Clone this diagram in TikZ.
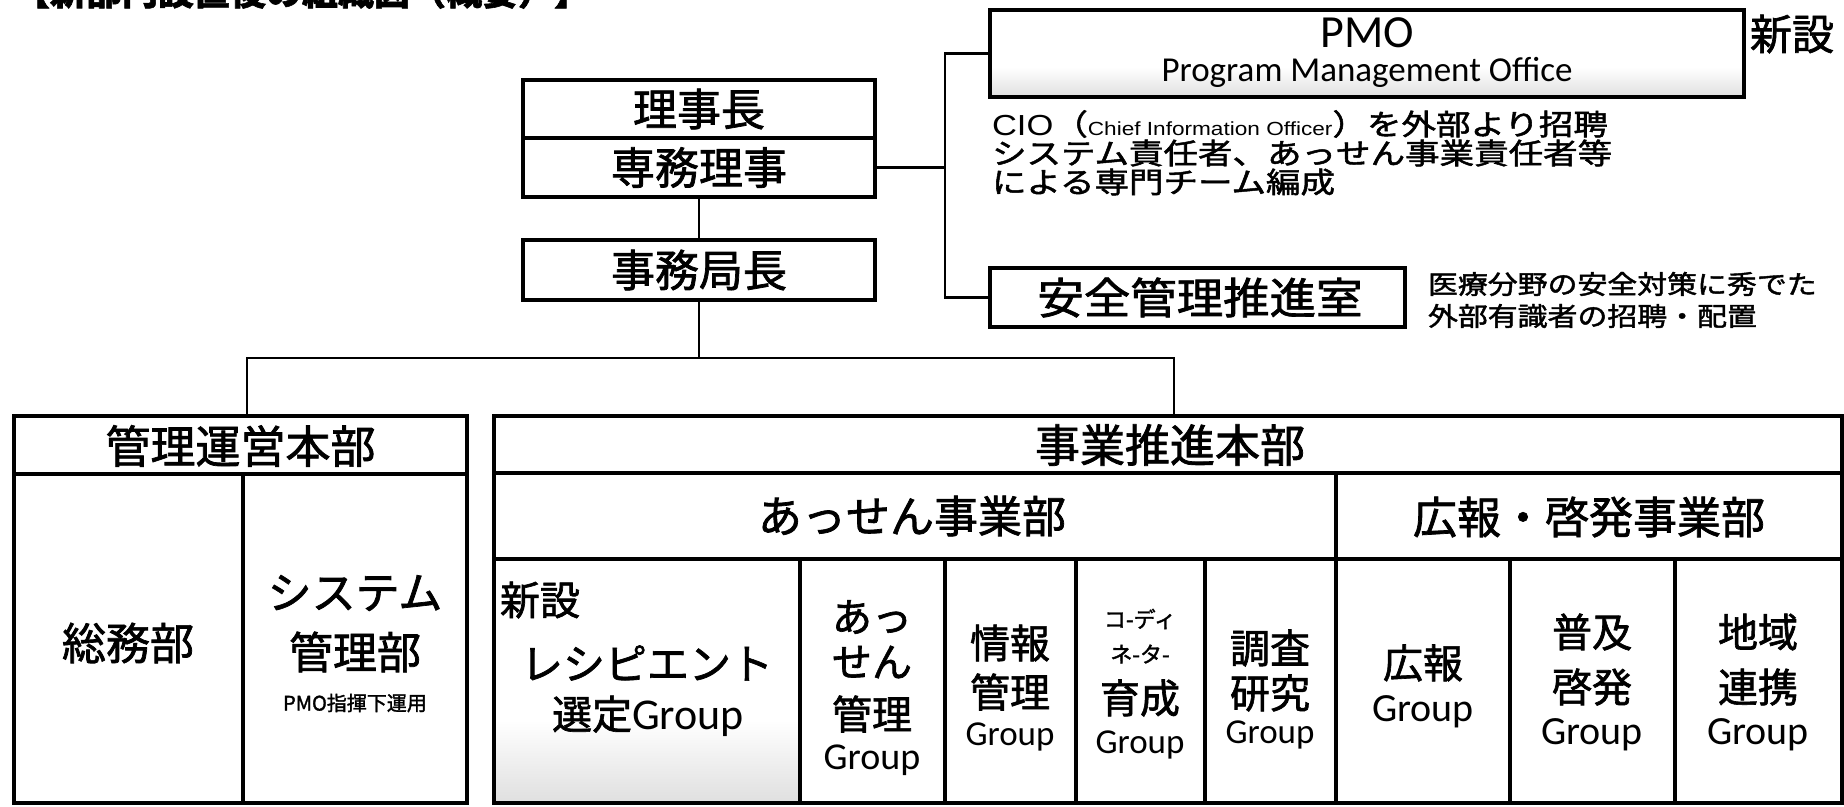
\documentclass[tikz,border=0pt]{standalone}
\usepackage{fontspec}
\usepackage{graphicx}
\setmainfont{Noto Sans CJK JP}[FakeBold=1.6]
\newfontfamily\latinf{Carlito}
\newfontfamily\arialf{Liberation Sans}
\newcommand\fsz[1]{\fontsize{#1}{#1}\selectfont}
\pgfdeclareverticalshading{speckle}{100bp}{color(0bp)=(black!40); color(12bp)=(black!22); color(42bp)=(white); color(100bp)=(white)}
\begin{document}
\begin{tikzpicture}[x=1pt,y=-1pt,
  frame/.style={draw=black, line width=3.4pt, inner sep=0pt, outer sep=0pt},
  shade/.style={shading=speckle},
  link/.style={draw=black, line width=2.6pt},
  lbl/.style={inner sep=0pt, outer sep=0pt, align=center},
]
\useasboundingbox (0,0) rectangle (1844,806);
\clip (0,0) rectangle (1844,806);

% title (cut at the top edge)
\node[lbl, anchor=base west] (title) at (14,5) {\bfseries\fsz{36}【新部門設置後の組織図（概要）】};

% top boxes
\node[frame, minimum width=352pt, minimum height=58pt] (rj) at (699,109) {};
\node[lbl] (rjt) at (699,109) {\fsz{44}理事長};
\node[frame, minimum width=352pt, minimum height=59pt] (sm) at (699,167.5) {};
\node[lbl] (smt) at (699,167.5) {\fsz{44}専務理事};
\node[frame, minimum width=352pt, minimum height=60pt] (jk) at (699,270) {};
\node[lbl] (jkt) at (699,270) {\fsz{44}事務局長};

\node[frame, shade, minimum width=754pt, minimum height=87pt] (pmo) at (1367,53.5) {};
\node[lbl, anchor=base] (pmot) at (1367,47) {\latinf\fsz{46}PMO};
\node[lbl, anchor=base] (pmos) at (1367,81) {\latinf\fsz{35}Program Management Office};
\node[lbl, anchor=west] (new1) at (1750,34) {\fsz{42}新設};

\node[lbl, anchor=west] (cio1) at (992,124) {\scalebox{1.19}[1]{\fsz{29}{\arialf CIO}（{\arialf\fsz{19}Chief Information Officer}）を外部より招聘}};
\node[lbl, anchor=west] (cio2) at (992,153) {\scalebox{1.19}[1]{\fsz{29}システム責任者、あっせん事業責任者等}};
\node[lbl, anchor=west] (cio3) at (992,182) {\scalebox{1.19}[1]{\fsz{29}による専門チーム編成}};

\node[frame, minimum width=415pt, minimum height=59pt] (anzen) at (1197.5,297.5) {};
\node[lbl] (anzent) at (1200,297.5) {\scalebox{1.08}[1]{\fsz{43}安全管理推進室}};
\node[lbl, anchor=west] (note1) at (1428,284) {\scalebox{1.15}[1]{\fsz{26}医療分野の安全対策に秀でた}};
\node[lbl, anchor=west] (note2) at (1428,316) {\scalebox{1.15}[1]{\fsz{26}外部有識者の招聘・配置}};

% connectors (top)
\coordinate (spm) at (945,167.5);
\coordinate (sp1) at (945,53.5);
\coordinate (sp2) at (945,297.5);
\draw[link] (sm.east) -- (spm);
\draw[link] (pmo.west) -- (sp1) -- (sp2) -- (anzen.west);
\draw[link] (sm.south) -- (jk.north);
\coordinate (bus) at (699,358);
\coordinate (busl) at (247,358);
\coordinate (busr) at (1174,358);

% management HQ
\node[frame, minimum width=453pt, minimum height=58pt] (kanri) at (240.5,445) {};
\node[lbl] (kanrit) at (240.5,446) {\fsz{45}管理運営本部};
\node[frame, minimum width=229pt, minimum height=329pt] (somu) at (128.5,638.5) {};
\node[lbl] (somut) at (128,643) {\fsz{44}総務部};
\node[frame, minimum width=224pt, minimum height=329pt] (sys) at (355,638.5) {};
\node[lbl] (syst1) at (355,593) {\fsz{44}システム};
\node[lbl] (syst2) at (355,652) {\fsz{44}管理部};
\node[lbl] (syst3) at (355,703) {\fsz{20}PMO指揮下運用};

% business HQ
\node[frame, minimum width=1348pt, minimum height=57pt] (jigyo) at (1168,444.5) {};
\node[lbl] (jigyot) at (1170,445) {\fsz{45}事業推進本部};
\node[frame, minimum width=842pt, minimum height=86pt] (assen) at (915,516) {};
\node[lbl] (assent) at (912,516) {\fsz{44}あっせん事業部};
\node[frame, minimum width=506pt, minimum height=86pt] (koho) at (1589,516) {};
\node[lbl] (kohot) at (1589,517) {\fsz{44}広報・啓発事業部};

\draw[link] (jk.south) -- (bus);
\draw[link] (kanri.north -| busl) -- (busl) -- (busr) -- (jigyo.north -| busr);

% group cells
\node[frame, shade, minimum width=306pt, minimum height=244pt] (g1) at (647,681) {};
\node[frame, minimum width=145pt, minimum height=244pt] (g2) at (872.5,681) {};
\node[frame, minimum width=131pt, minimum height=244pt] (g3) at (1010.5,681) {};
\node[frame, minimum width=129pt, minimum height=244pt] (g4) at (1140.5,681) {};
\node[frame, minimum width=131pt, minimum height=244pt] (g5) at (1270.5,681) {};
\node[frame, minimum width=174pt, minimum height=244pt] (g6) at (1423,681) {};
\node[frame, minimum width=165pt, minimum height=244pt] (g7) at (1592.5,681) {};
\node[frame, minimum width=167pt, minimum height=244pt] (g8) at (1758.5,681) {};

\node[lbl, anchor=west] (g1a) at (500,600) {\fsz{40}新設};
\node[lbl] (g1b) at (647,663) {\fsz{42}レシピエント};
\node[lbl] (g1c) at (648,716) {\fsz{40}選定{\latinf\fsz{44}Group}};

\node[lbl] (g2a) at (872,617) {\fsz{40}あっ};
\node[lbl] (g2b) at (872,662) {\fsz{40}せん};
\node[lbl] (g2c) at (872,714) {\fsz{40}管理};
\node[lbl] (g2d) at (872,760) {\latinf\fsz{38}Group};

\node[lbl] (g3a) at (1010,643) {\fsz{40}情報};
\node[lbl] (g3b) at (1010,692) {\fsz{40}管理};
\node[lbl] (g3c) at (1010,737) {\latinf\fsz{35}Group};

\node[lbl] (g4a) at (1140,619) {\fsz{22}コ-ディ};
\node[lbl] (g4b) at (1140,654) {\fsz{22}ネ-タ-};
\node[lbl] (g4c) at (1140,698) {\fsz{40}育成};
\node[lbl] (g4d) at (1140,745) {\latinf\fsz{35}Group};

\node[lbl] (g5a) at (1270,648) {\fsz{40}調査};
\node[lbl] (g5b) at (1270,693) {\fsz{40}研究};
\node[lbl] (g5c) at (1270,735) {\latinf\fsz{35}Group};

\node[lbl] (g6a) at (1423,663) {\fsz{40}広報};
\node[lbl] (g6b) at (1423,712) {\latinf\fsz{40}Group};

\node[lbl] (g7a) at (1592,632) {\fsz{40}普及};
\node[lbl] (g7b) at (1592,687) {\fsz{40}啓発};
\node[lbl] (g7c) at (1592,735) {\latinf\fsz{40}Group};

\node[lbl] (g8a) at (1758,632) {\fsz{40}地域};
\node[lbl] (g8b) at (1758,687) {\fsz{40}連携};
\node[lbl] (g8c) at (1758,735) {\latinf\fsz{40}Group};
\end{tikzpicture}
\end{document}
